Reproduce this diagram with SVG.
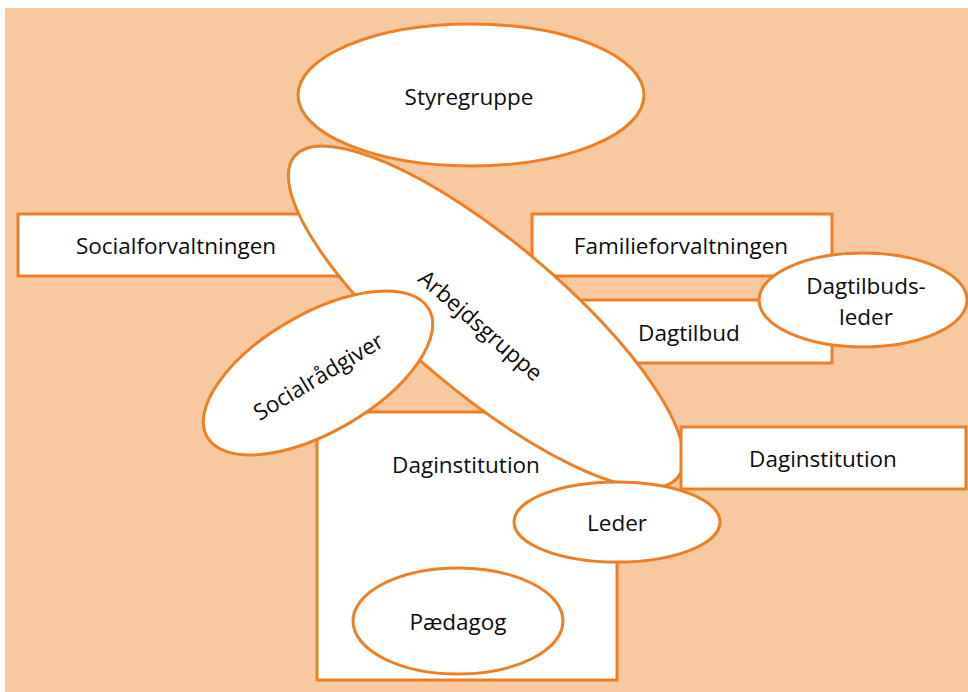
<svg xmlns="http://www.w3.org/2000/svg" width="968" height="692" viewBox="0 0 968 692">
<style>
.bg{fill:#F8C9A0}
.sh{fill:#FFFFFF;stroke:#EE7F26;stroke-width:3}
.t{font-family:"Open Sans","Liberation Sans",sans-serif;font-size:22.5px;fill:#0D0D0D;text-anchor:middle;dominant-baseline:central}
</style>
<rect x="0" y="0" width="968" height="692" fill="#FFFFFF"/>
<rect class="bg" x="5" y="8" width="963" height="684"/>
<g id="socialforvaltningen">
<rect class="sh" x="18" y="214" width="330" height="62"/>
<text class="t" x="176" y="245">Socialforvaltningen</text>
</g>
<g id="familieforvaltningen">
<rect class="sh" x="532" y="214" width="300" height="62"/>
<text class="t" x="681" y="245">Familieforvaltningen</text>
</g>
<g id="dagtilbud">
<rect class="sh" x="532" y="300" width="300" height="63"/>
<text class="t" x="689" y="332">Dagtilbud</text>
</g>
<g id="daginstitution-main">
<rect class="sh" x="317" y="412" width="300" height="268"/>
<text class="t" x="466" y="464">Daginstitution</text>
</g>
<g id="paedagog">
<ellipse class="sh" cx="458" cy="621" rx="105" ry="53"/>
<text class="t" x="458" y="621">Pædagog</text>
</g>
<g id="arbejdsgruppe">
<ellipse class="sh" cx="0" cy="0" rx="250" ry="76" transform="translate(486 317) rotate(40)"/>
<text class="t" x="0" y="0" transform="translate(481 325) rotate(41)">Arbejdsgruppe</text>
</g>
<g id="styregruppe">
<ellipse class="sh" cx="471" cy="95" rx="173" ry="71"/>
<text class="t" x="469" y="96">Styregruppe</text>
</g>
<g id="daginstitution-right">
<rect class="sh" x="681" y="427" width="285" height="62"/>
<text class="t" x="823" y="458">Daginstitution</text>
</g>
<g id="dagtilbudsleder">
<ellipse class="sh" cx="863" cy="300" rx="104" ry="47"/>
<text class="t" x="866" y="285">Dagtilbuds-</text>
<text class="t" x="866" y="316">leder</text>
</g>
<g id="socialraadgiver">
<ellipse class="sh" cx="0" cy="0" rx="128" ry="59" transform="translate(318 373) rotate(-30)"/>
<text class="t" x="0" y="0" transform="translate(318 376) rotate(-31)">Socialrådgiver</text>
</g>
<g id="leder">
<ellipse class="sh" cx="617" cy="522" rx="103" ry="40"/>
<text class="t" x="617" y="522">Leder</text>
</g>
<g id="connectors"></g>
</svg>
